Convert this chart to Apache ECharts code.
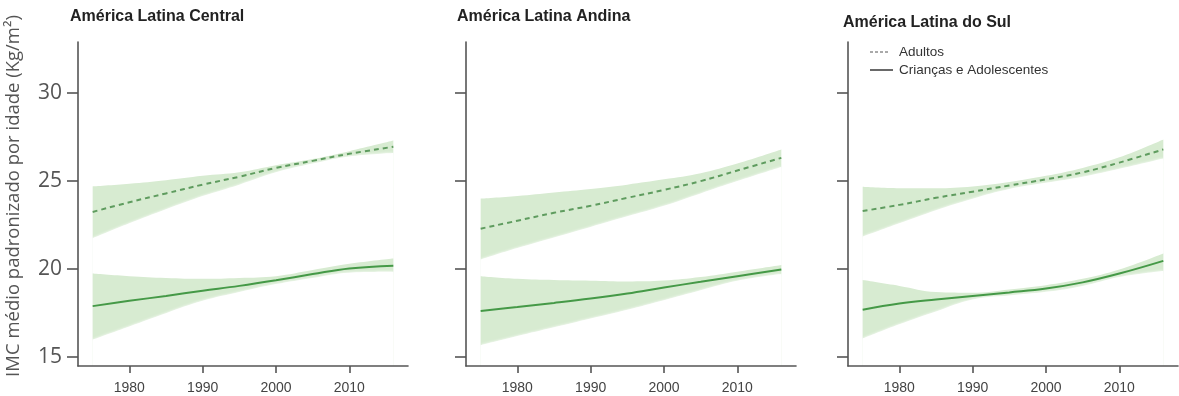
<!DOCTYPE html>
<html>
<head>
<meta charset="utf-8">
<script src="https://cdn.jsdelivr.net/npm/echarts@6/dist/echarts.min.js"></script>
<style>html,body{margin:0;padding:0;background:#fff}#c{width:1179px;height:396px}</style>
</head>
<body>
<div id="c"></div>
<script>
// ---- data ----
const years = [1975, 1980, 1985, 1990, 1995, 2000, 2005, 2010, 2016];
const panelTitles = ['América Latina Central', 'América Latina Andina', 'América Latina do Sul'];
const yTicks = [15, 20, 25, 30];
const xTicks = [1980, 1990, 2000, 2010];
const seriesNames = ['Adultos', 'Crianças e Adolescentes'];
const yAxisTitle = 'IMC médio padronizado por idade (Kg/m²)';

// América Latina Central
const centralAdult      = [23.25, 23.8, 24.3, 24.8, 25.25, 25.75, 26.15, 26.55, 26.95];
const centralAdultUp    = [24.7, 24.85, 25.05, 25.3, 25.5, 25.9, 26.25, 26.7, 27.3];
const centralAdultLow   = [21.75, 22.6, 23.4, 24.15, 24.8, 25.5, 26.0, 26.4, 26.6];
const centralChild      = [17.9, 18.2, 18.48, 18.77, 19.05, 19.37, 19.72, 20.04, 20.2];
const centralChildUp    = [19.75, 19.6, 19.5, 19.45, 19.5, 19.6, 19.95, 20.3, 20.6];
const centralChildLow   = [16.0, 16.75, 17.5, 18.2, 18.7, 19.15, 19.5, 19.8, 19.85];

// América Latina Andina
const andinaAdult       = [22.3, 22.75, 23.2, 23.6, 24.05, 24.5, 25.0, 25.6, 26.32];
const andinaAdultUp     = [24.0, 24.15, 24.35, 24.55, 24.8, 25.1, 25.45, 26.0, 26.8];
const andinaAdultLow    = [20.55, 21.2, 21.8, 22.4, 23.0, 23.6, 24.3, 25.0, 25.8];
const andinaChild       = [17.63, 17.85, 18.08, 18.33, 18.62, 18.96, 19.28, 19.6, 19.98];
const andinaChildUp     = [19.6, 19.45, 19.38, 19.34, 19.3, 19.35, 19.55, 19.85, 20.23];
const andinaChildLow    = [15.68, 16.2, 16.7, 17.2, 17.7, 18.24, 18.8, 19.34, 19.72];

// América Latina do Sul
const sulAdult          = [23.3, 23.65, 24.05, 24.4, 24.75, 25.1, 25.5, 26.05, 26.8];
const sulAdultUp        = [24.68, 24.6, 24.6, 24.7, 24.95, 25.3, 25.75, 26.35, 27.37];
const sulAdultLow       = [21.84, 22.6, 23.35, 24.0, 24.55, 24.9, 25.25, 25.7, 26.29];
const sulChild          = [17.7, 18.05, 18.28, 18.48, 18.68, 18.9, 19.25, 19.75, 20.47];
const sulChildUp        = [19.38, 19.05, 18.7, 18.66, 18.85, 19.09, 19.45, 19.98, 20.89];
const sulChildLow       = [16.06, 16.87, 17.6, 18.28, 18.5, 18.71, 19.05, 19.56, 19.9];

const panels = [
  {adult: centralAdult, adultUp: centralAdultUp, adultLow: centralAdultLow, child: centralChild, childUp: centralChildUp, childLow: centralChildLow},
  {adult: andinaAdult, adultUp: andinaAdultUp, adultLow: andinaAdultLow, child: andinaChild, childUp: andinaChildUp, childLow: andinaChildLow},
  {adult: sulAdult, adultUp: sulAdultUp, adultLow: sulAdultLow, child: sulChild, childUp: sulChildUp, childLow: sulChildLow}
];

// ---- layout / style ----
const gridLefts = [78, 466, 848];
const gridWidth = 330;
const titleTops = [9, 9, 15];
const titleLefts = [70, 457, 843];
const bandColor = '#d7ebd1';
const adultColor = '#5f9c5f';
const childColor = '#459947';
const axisColor = '#555';

const chart = echarts.init(document.getElementById('c'), null, {renderer: 'canvas'});

const grids = [], xAxes = [], yAxes = [], series = [];
const pairs = arr => years.map((y, i) => [y, arr[i]]);

panels.forEach((p, k) => {
  grids.push({left: gridLefts[k], top: 42, width: gridWidth, height: 324});
  xAxes.push({
    type: 'value', gridIndex: k, min: 1973, max: 2018, z: 10,
    axisLine: {show: true, lineStyle: {color: axisColor, width: 1.6}},
    axisTick: {show: true, length: 7, lineStyle: {color: axisColor, width: 1.6}, customValues: xTicks},
    axisLabel: {show: true, customValues: xTicks, margin: 15, color: '#444', fontSize: 14,
                fontFamily: 'Liberation Sans, Arial', formatter: v => String(v)},
    splitLine: {show: false}
  });
  yAxes.push({
    type: 'value', gridIndex: k, min: 14.5, max: 32.9, z: 10,
    axisLine: {show: true, lineStyle: {color: axisColor, width: 1.6}},
    axisTick: {show: true, length: 11, lineStyle: {color: axisColor, width: 1.6}, customValues: yTicks},
    axisLabel: {show: k === 0, customValues: yTicks, margin: 16, color: '#555', fontSize: 21, fontFamily: 'Open Sans'},
    splitLine: {show: false}
  });
  // confidence bands: upper edge filled green down to the axis, lower edge masked in white
  const bands = [
    [p.adultUp, p.adultLow],
    [p.childUp, p.childLow]
  ];
  bands.forEach(([up, low]) => {
    series.push({
      type: 'line', xAxisIndex: k, yAxisIndex: k,
      data: pairs(up), smooth: 0.4, symbol: 'none', silent: true,
      lineStyle: {width: 0, opacity: 0}, areaStyle: {color: bandColor, opacity: 1, origin: 'start'}, z: 1
    });
    series.push({
      type: 'line', xAxisIndex: k, yAxisIndex: k,
      data: pairs(low), smooth: 0.4, symbol: 'none', silent: true,
      lineStyle: {width: 0, opacity: 0},
      areaStyle: {color: '#ffffff', opacity: 1, origin: 'start', shadowColor: '#ffffff', shadowBlur: 3}, z: 1
    });
  });
  series.push({
    name: seriesNames[0], type: 'line', xAxisIndex: k, yAxisIndex: k,
    data: pairs(p.adult), smooth: 0.4, symbol: 'none',
    lineStyle: {color: adultColor, width: 2, type: [5, 4]}, z: 3
  });
  series.push({
    name: seriesNames[1], type: 'line', xAxisIndex: k, yAxisIndex: k,
    data: pairs(p.child), smooth: 0.4, symbol: 'none',
    lineStyle: {color: childColor, width: 2}, z: 3
  });
});

const titles = panelTitles.map((t, k) => ({
  text: t, left: titleLefts[k], top: titleTops[k], padding: 0,
  textStyle: {fontSize: 16, fontWeight: 'bold', color: '#222', fontFamily: 'Liberation Sans, Arial'}
}));

chart.setOption({
  animation: false,
  backgroundColor: '#fff',
  title: titles,
  grid: grids,
  xAxis: xAxes,
  yAxis: yAxes,
  series: series,
  graphic: [
    {type: 'text', x: 14, y: 196, rotation: Math.PI / 2,
     style: {text: yAxisTitle, fill: '#555', font: '18.5px "Open Sans"', align: 'center', verticalAlign: 'middle'}},
    {type: 'line', shape: {x1: 870, y1: 52, x2: 889, y2: 52}, style: {stroke: '#555', lineWidth: 1, lineDash: [3, 2]}},
    {type: 'text', x: 899, y: 52, style: {text: seriesNames[0], fill: '#333', font: '13.5px "Liberation Sans", Arial', verticalAlign: 'middle'}},
    {type: 'line', shape: {x1: 870, y1: 70, x2: 893, y2: 70}, style: {stroke: '#444', lineWidth: 1.6}},
    {type: 'text', x: 899, y: 70, style: {text: seriesNames[1], fill: '#333', font: '13.5px "Liberation Sans", Arial', verticalAlign: 'middle'}}
  ]
});
</script>
</body>
</html>
